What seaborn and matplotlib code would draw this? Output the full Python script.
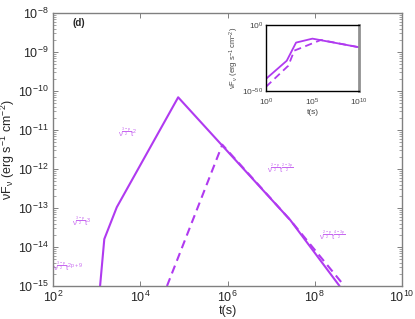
import numpy as np
import matplotlib
matplotlib.use('Agg')
import matplotlib.pyplot as plt
import seaborn as sns
from matplotlib.ticker import LogLocator, FixedLocator, NullLocator

sns.set_theme(style='ticks')
plt.rcParams['font.family'] = ['Liberation Sans', 'DejaVu Sans']
plt.rcParams['mathtext.fontset'] = 'custom'
plt.rcParams['mathtext.rm'] = 'Liberation Sans'
plt.rcParams['mathtext.it'] = 'Liberation Sans:italic'
plt.rcParams['mathtext.default'] = 'regular'

# ── data ────────────────────────────────────────────
t_solid = [1.2e3, 1.5e3, 2.9e3, 7.4e4, 2.75e7, 3.7e8]
F_solid = [1e-15, 1.6e-14, 1.05e-13, 6.9e-11, 4.9e-14, 1e-15]

t_dash = [4.1e4, 7.6e5, 2.75e7, 4.8e8]
F_dash = [1e-15, 4.2e-12, 4.9e-14, 1e-15]

t_in_solid = [1.0, 1.66e2, 1.66e3, 9.5e4, 1e10]
F_in_solid = [1e-41, 6e-28, 4e-14, 4e-11, 1e-17]
t_in_dash = [1.0, 2.45e2, 1.07e3, 7.6e5, 1e10]
F_in_dash = [1e-47, 1e-31, 3e-20, 4e-12, 1e-17]

labels = [r'$\nu^{\frac{3-p}{2}}t^{2}$',
          r'$\nu^{\frac{3-p}{2}}t^{3}$',
          r'$\nu^{\frac{3-p}{2}}t^{2p+9}$',
          r'$\nu^{\frac{2-p}{2}}t^{\frac{2-3p}{2}}$',
          r'$\nu^{\frac{2-p}{2}}t^{\frac{4-3p}{2}}$']
label_t = [3.1e3, 2.75e2, 1.0e2, 8.1e6, 1.26e8]
label_F = [9e-12, 4.7e-14, 3.2e-15, 1.07e-12, 2.0e-14]

line_col = '#B03AF0'
text_col = '#C768F0'
spine_col = '#808080'

fig = plt.figure(figsize=(4.15, 3.19), dpi=100)
ax = fig.add_axes([0.1277, 0.1034, 0.841, 0.8558])

sns.lineplot(x=t_solid, y=F_solid, ax=ax, color=line_col, lw=1.5,
             sort=False, estimator=None)
sns.lineplot(x=t_dash, y=F_dash, ax=ax, color=line_col, lw=1.5,
             sort=False, estimator=None, linestyle=(0, (4, 2.5)))
ax.set_xscale('log')
ax.set_yscale('log')
ax.set_xlim(1e2, 1e10)
ax.set_ylim(1e-15, 1e-8)

ax.xaxis.set_major_locator(FixedLocator([1e2, 1e4, 1e6, 1e8, 1e10]))
ax.xaxis.set_minor_locator(NullLocator())
ax.yaxis.set_major_locator(FixedLocator([10.0**k for k in range(-15, -7)]))
ax.yaxis.set_minor_locator(LogLocator(base=10, subs=np.arange(2, 10), numticks=20))
ax.tick_params(which='both', direction='in', top=True, right=True,
               color=spine_col, labelsize=9, pad=3)
ax.tick_params(which='major', length=3.5, width=0.7)
ax.tick_params(which='minor', length=2, width=0.5)
for s in ax.spines.values():
    s.set_color(spine_col)
    s.set_linewidth(1.0)

ax.set_xlabel('t(s)', fontsize=9, labelpad=0)
ax.set_ylabel(r'$\nu$F$_\nu$ (erg s$^{-1}$ cm$^{-2}$)', fontsize=9, labelpad=1)
ax.text(0.057, 0.963, '(d)', transform=ax.transAxes, fontsize=7,
        fontweight='bold', va='center', ha='left')

for lab, xt, yf in zip(labels, label_t, label_F):
    ax.text(xt, yf, lab, color=text_col, fontsize=5.5, ha='left',
            va='center', math_fontfamily='cm')

# ── inset ───────────────────────────────────────────
ins = fig.add_axes([0.641, 0.7157, 0.2248, 0.206])
sns.lineplot(x=t_in_solid, y=F_in_solid, ax=ins, color=line_col, lw=1.3,
             sort=False, estimator=None)
sns.lineplot(x=t_in_dash, y=F_in_dash, ax=ins, color=line_col, lw=1.3,
             sort=False, estimator=None, linestyle=(0, (4, 2.5)))
ins.set_xscale('log')
ins.set_yscale('log')
ins.set_xlim(1, 1e10)
ins.set_ylim(1e-50, 1)
ins.xaxis.set_major_locator(FixedLocator([1, 1e5, 1e10]))
ins.yaxis.set_major_locator(FixedLocator([1e-50, 1]))
ins.xaxis.set_minor_locator(NullLocator())
ins.yaxis.set_minor_locator(NullLocator())
ins.tick_params(which='both', length=0, labelsize=6, labelcolor='#444444')
ins.tick_params(axis='x', pad=4)
ins.tick_params(axis='y', pad=2)
for s in ins.spines.values():
    s.set_color('black')
    s.set_linewidth(1.0)
ins.spines['right'].set_color('#909090')
ins.spines['right'].set_linewidth(2.0)
ins.set_xlabel('t(s)', fontsize=6, labelpad=1, color='#444444')
ins.set_ylabel(r'$\nu$F$_\nu$ (erg s$^{-1}$ cm$^{-2}$)', fontsize=5.5,
               labelpad=1, color='#444444')

fig.savefig('out.png', dpi=100)
plt.close(fig)
